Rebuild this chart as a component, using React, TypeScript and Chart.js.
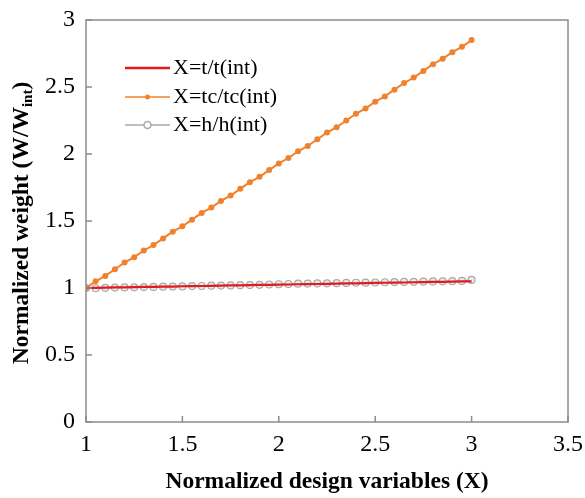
import React, { useEffect, useRef } from 'react';
import { Chart, registerables } from 'chart.js';

Chart.register(...registerables);

const xValues = [1.0, 1.05, 1.1, 1.15, 1.2, 1.25, 1.3, 1.35, 1.4, 1.45, 1.5, 1.55, 1.6, 1.65, 1.7, 1.75, 1.8, 1.85, 1.9, 1.95, 2.0, 2.05, 2.1, 2.15, 2.2, 2.25, 2.3, 2.35, 2.4, 2.45, 2.5, 2.55, 2.6, 2.65, 2.7, 2.75, 2.8, 2.85, 2.9, 2.95, 3.0];

const tValues = [1.000, 1.001, 1.003, 1.004, 1.005, 1.006, 1.008, 1.009, 1.010, 1.011, 1.013, 1.014, 1.015, 1.016, 1.018, 1.019, 1.020, 1.021, 1.023, 1.024, 1.025, 1.026, 1.028, 1.029, 1.030, 1.031, 1.033, 1.034, 1.035, 1.036, 1.038, 1.039, 1.040, 1.041, 1.043, 1.044, 1.045, 1.046, 1.048, 1.049, 1.050];

const tcValues = [1.00, 1.05, 1.09, 1.14, 1.19, 1.23, 1.28, 1.32, 1.37, 1.42, 1.46, 1.51, 1.56, 1.60, 1.65, 1.69, 1.74, 1.79, 1.83, 1.88, 1.93, 1.97, 2.02, 2.06, 2.11, 2.16, 2.20, 2.25, 2.30, 2.34, 2.39, 2.43, 2.48, 2.53, 2.57, 2.62, 2.67, 2.71, 2.76, 2.80, 2.85];

const hValues = [1.000, 0.998, 1.001, 1.003, 1.004, 1.005, 1.007, 1.008, 1.010, 1.011, 1.012, 1.014, 1.015, 1.017, 1.018, 1.019, 1.021, 1.022, 1.024, 1.026, 1.028, 1.030, 1.032, 1.033, 1.034, 1.035, 1.036, 1.038, 1.039, 1.040, 1.041, 1.043, 1.044, 1.045, 1.046, 1.048, 1.049, 1.050, 1.051, 1.053, 1.060];

const seriesLabels = ['X=t/t(int)', 'X=tc/tc(int)', 'X=h/h(int)'];
const xTitle = 'Normalized design variables (X)';
const yTitleMain = 'Normalized weight (W/W';
const yTitleSub = 'int';
const yTitleEnd = ')';

const RED = '#e31a1c';
const ORANGE = '#f0822e';
const GRAY = '#a9a9a9';
const SERIF = '"Liberation Serif", "Times New Roman", serif';

const decorPlugin = {
  id: 'decor',
  afterDraw(chart: any) {
    const ctx = chart.ctx as CanvasRenderingContext2D;
    const { left, right, top, bottom } = chart.chartArea;
    const xs = chart.scales.x;
    const ys = chart.scales.y;
    ctx.save();
    // frame
    ctx.strokeStyle = '#8c8c8c';
    ctx.lineWidth = 1.5;
    ctx.strokeRect(left, top, right - left, bottom - top);
    // inner ticks
    ctx.beginPath();
    xs.ticks.forEach((t: any) => {
      const px = xs.getPixelForValue(t.value);
      ctx.moveTo(px, bottom);
      ctx.lineTo(px, bottom - 6);
    });
    ys.ticks.forEach((t: any) => {
      const py = ys.getPixelForValue(t.value);
      ctx.moveTo(left, py);
      ctx.lineTo(left + 6, py);
    });
    ctx.stroke();

    // x title
    ctx.fillStyle = '#000';
    ctx.font = `bold 23.5px ${SERIF}`;
    ctx.textAlign = 'center';
    ctx.textBaseline = 'middle';
    ctx.fillText(xTitle, (left + right) / 2, 482);

    // y title with subscript
    ctx.save();
    ctx.translate(22, 223);
    ctx.rotate(-Math.PI / 2);
    ctx.textAlign = 'left';
    ctx.textBaseline = 'middle';
    const mainFont = `bold 23.5px ${SERIF}`;
    const subFont = `bold 15px ${SERIF}`;
    ctx.font = mainFont;
    const w1 = ctx.measureText(yTitleMain).width;
    const w3 = ctx.measureText(yTitleEnd).width;
    ctx.font = subFont;
    const w2 = ctx.measureText(yTitleSub).width;
    let x0 = -(w1 + w2 + w3) / 2;
    ctx.font = mainFont;
    ctx.fillText(yTitleMain, x0, 0);
    x0 += w1;
    ctx.font = subFont;
    ctx.fillText(yTitleSub, x0, 6);
    x0 += w2;
    ctx.font = mainFont;
    ctx.fillText(yTitleEnd, x0, 0);
    ctx.restore();

    // legend
    const lx0 = 125;
    const lx1 = 170;
    const rows = [68, 97, 125];
    ctx.font = `22px ${SERIF}`;
    ctx.textAlign = 'left';
    ctx.textBaseline = 'middle';
    // red
    ctx.strokeStyle = RED;
    ctx.lineWidth = 2.5;
    ctx.beginPath();
    ctx.moveTo(lx0, rows[0]);
    ctx.lineTo(lx1, rows[0]);
    ctx.stroke();
    // orange
    ctx.strokeStyle = ORANGE;
    ctx.lineWidth = 1.5;
    ctx.beginPath();
    ctx.moveTo(lx0, rows[1]);
    ctx.lineTo(lx1, rows[1]);
    ctx.stroke();
    ctx.fillStyle = ORANGE;
    ctx.beginPath();
    ctx.arc((lx0 + lx1) / 2, rows[1], 2.5, 0, Math.PI * 2);
    ctx.fill();
    // gray
    ctx.strokeStyle = GRAY;
    ctx.lineWidth = 1.5;
    ctx.beginPath();
    ctx.moveTo(lx0, rows[2]);
    ctx.lineTo(lx1, rows[2]);
    ctx.stroke();
    ctx.fillStyle = '#ffffff';
    ctx.beginPath();
    ctx.arc((lx0 + lx1) / 2, rows[2], 3.5, 0, Math.PI * 2);
    ctx.fill();
    ctx.stroke();

    ctx.fillStyle = '#000';
    seriesLabels.forEach((s, i) => ctx.fillText(s, lx1 + 3, rows[i]));
    ctx.restore();
  },
};

export default function App() {
  const ref = useRef<HTMLCanvasElement>(null);
  useEffect(() => {
    document.body.style.margin = '0';
    const canvas = ref.current!;
    const toPts = (ys: number[]) => xValues.map((x, i) => ({ x, y: ys[i] }));
    const fmt = (v: any) => String(Number(v));
    const chart = new Chart(canvas, {
      type: 'line',
      data: {
        datasets: [
          {
            label: seriesLabels[0],
            data: toPts(tValues),
            borderColor: RED,
            backgroundColor: RED,
            borderWidth: 2.2,
            pointRadius: 0,
            order: 0,
          },
          {
            label: seriesLabels[1],
            data: toPts(tcValues),
            borderColor: ORANGE,
            backgroundColor: ORANGE,
            borderWidth: 2,
            pointRadius: 3,
            pointBorderWidth: 0,
            pointBackgroundColor: ORANGE,
            order: 1,
          },
          {
            label: seriesLabels[2],
            data: toPts(hValues),
            borderColor: GRAY,
            backgroundColor: '#e6e6e6',
            borderWidth: 1.5,
            pointRadius: 3.5,
            pointBorderWidth: 1.2,
            pointBorderColor: GRAY,
            pointBackgroundColor: '#ececec',
            order: 2,
          },
        ],
      },
      options: {
        responsive: false,
        animation: false,
        devicePixelRatio: 1,
        layout: { padding: { top: 20, right: 17, left: 0, bottom: 0 } },
        plugins: {
          legend: { display: false },
          tooltip: { enabled: false },
        },
        scales: {
          x: {
            type: 'linear',
            min: 1,
            max: 3.5,
            ticks: {
              stepSize: 0.5,
              color: '#000',
              font: { family: SERIF, size: 24 },
              padding: 8,
              maxRotation: 0,
              callback: fmt,
            },
            grid: { display: false, drawTicks: false },
            border: { display: false },
            afterFit: (s: any) => {
              s.height = 76;
              s.paddingLeft = 0;
              s.paddingRight = 0;
            },
          },
          y: {
            type: 'linear',
            min: 0,
            max: 3,
            ticks: {
              stepSize: 0.5,
              color: '#000',
              font: { family: SERIF, size: 24 },
              padding: 11,
              callback: fmt,
            },
            grid: { display: false, drawTicks: false },
            border: { display: false },
            afterFit: (s: any) => {
              s.width = 86;
              s.paddingTop = 0;
              s.paddingBottom = 0;
            },
          },
        },
      },
      plugins: [decorPlugin],
    });
    return () => chart.destroy();
  }, []);
  return (
    <div style={{ width: 585, height: 498 }}>
      <canvas ref={ref} width={585} height={498} style={{ display: 'block' }} />
    </div>
  );
}
